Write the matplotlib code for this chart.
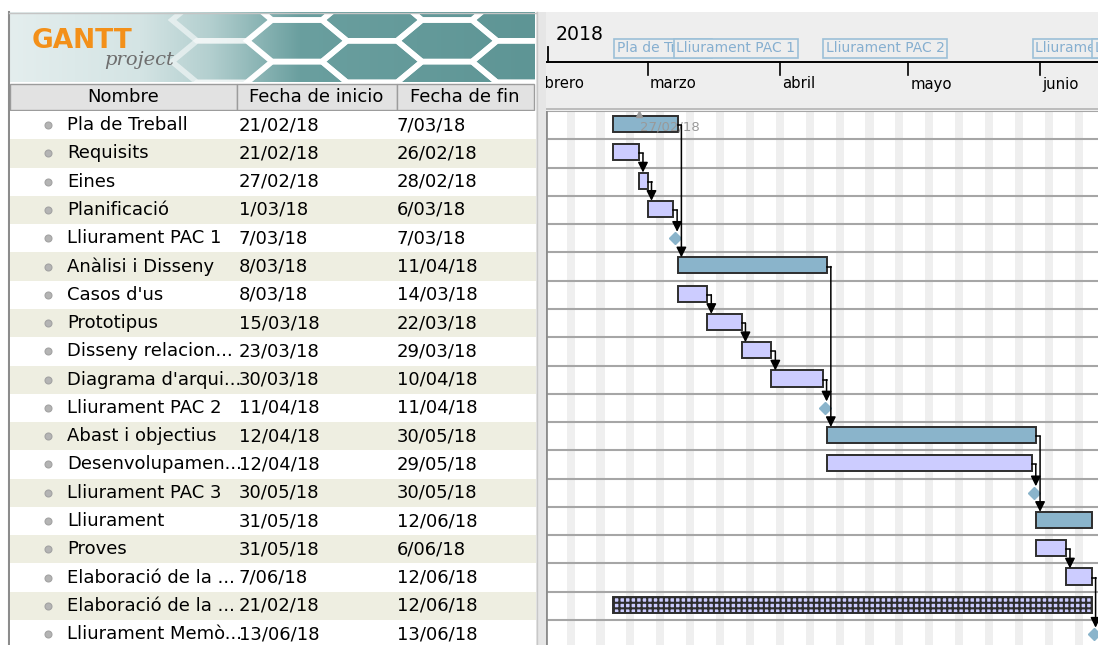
import datetime as dt
import numpy as np
import matplotlib
matplotlib.use("Agg")
import matplotlib.pyplot as plt
import matplotlib.dates as mdates
import matplotlib.colors as mcolors
import matplotlib.transforms as mtransforms
from matplotlib.patches import Rectangle, Polygon

plt.rcParams["font.family"] = ["DejaVu Sans"]
plt.rcParams["hatch.linewidth"] = 1.5

# ---- dades de les tasques ----
names = ["Pla de Treball", "Requisits", "Eines", "Planificació", "Lliurament PAC 1",
         "Anàlisi i Disseny", "Casos d'us", "Prototipus", "Disseny relacion...",
         "Diagrama d'arqui...", "Lliurament PAC 2", "Abast i objectius",
         "Desenvolupamen...", "Lliurament PAC 3", "Lliurament", "Proves",
         "Elaboració de la ...", "Elaboració de la ...", "Lliurament Memò..."]
start_dates = ["21/02/18", "21/02/18", "27/02/18", "1/03/18", "7/03/18", "8/03/18",
               "8/03/18", "15/03/18", "23/03/18", "30/03/18", "11/04/18", "12/04/18",
               "12/04/18", "30/05/18", "31/05/18", "31/05/18", "7/06/18", "21/02/18",
               "13/06/18"]
end_dates = ["7/03/18", "26/02/18", "28/02/18", "6/03/18", "7/03/18", "11/04/18",
             "14/03/18", "22/03/18", "29/03/18", "10/04/18", "11/04/18", "30/05/18",
             "29/05/18", "30/05/18", "12/06/18", "6/06/18", "12/06/18", "12/06/18",
             "13/06/18"]
kinds = ["summary", "task", "task", "task", "milestone", "summary", "task", "task",
         "task", "task", "milestone", "summary", "task", "milestone", "summary",
         "task", "task", "hatched", "milestone"]
# (predecessora, successora)
deps = [(0, 5), (1, 2), (2, 3), (3, 4), (6, 7), (7, 8), (8, 9), (9, 10), (5, 11),
        (12, 13), (11, 14), (15, 16), (16, 18)]
timeline_tasks = [0, 4, 10, 13, 18]
timeline_labels = ["Pla de Treball", "Lliurament PAC 1", "Lliurament PAC 2",
                   "Lliurament PAC 3", "Lliurament Memòria"]
month_names = ["febrero", "marzo", "abril", "mayo", "junio"]
month_nums = [2, 3, 4, 5, 6]
year_label = "2018"
today_label = "27/02/18"
columns = ["Nombre", "Fecha de inicio", "Fecha de fin"]


def parse(s):
    d, m, y = s.split("/")
    return dt.date(2000 + int(y), int(m), int(d))


start = mdates.date2num([parse(s) for s in start_dates])
end = mdates.date2num([parse(s) for s in end_dates]) + 1   # fi del dia
today = mdates.date2num(parse(today_label))

# ---- geometria de la captura (pixels) ----
W, H = 1098, 645
ROW_TOP, ROW_H = 111.0, 28.28
DAY_PX = 4.27
GX0 = 546

fig = plt.figure(figsize=(W / 100, H / 100), dpi=100)


def px_axes(x0, y0, x1, y1):
    return fig.add_axes([x0 / W, 1 - y1 / H, (x1 - x0) / W, (y1 - y0) / H])


def clean(a):
    a.set_xticks([])
    a.set_yticks([])
    for s in a.spines.values():
        s.set_visible(False)


ref = mdates.date2num(dt.date(2018, 2, 21))
xlim = (ref - (613.5 - GX0) / DAY_PX, ref + (W - 613.5) / DAY_PX)
ylim = ((H - ROW_TOP) / ROW_H - 0.5, (110.5 - ROW_TOP) / ROW_H - 0.5)

# ---- fons i panell esquerre ----
bg = px_axes(0, 0, W, H)
stops = [9, 140, 210, 300, 535]
cols = [mcolors.to_rgb(c) for c in ["#E4EEEE", "#D4E4E4", "#B3CFCF", "#6A9F9F", "#5E9595"]]
xs = np.arange(9, 536)
grad = np.stack([np.interp(xs, stops, [c[k] for c in cols]) for k in range(3)], axis=-1)[None, :, :]
bg.imshow(grad, extent=(9, 535, 82.5, 13), aspect="auto", interpolation="bilinear", zorder=1)

# panal de l'escut
clip_rect = Rectangle((9, 13), 526, 69.5, transform=bg.transData)
rx, ry = 50, 24
ang = np.deg2rad(np.arange(0, 360, 60))
for col in range(0, 7):
    cx = 222 + col * 75
    for row in range(-1, 3):
        cy = 20 + row * 41.6 + (20.8 if col % 2 else 0)
        hexa = Polygon(np.column_stack([cx + rx * np.cos(ang), cy + ry * np.sin(ang)]),
                       closed=True, fc="none", ec="white", lw=4,
                       alpha=min(1.0, 0.55 + (cx - 222) / 150), zorder=2)
        bg.add_patch(hexa)
        hexa.set_clip_path(clip_rect)

bg.text(32, 41, "GANTT", color="#F39019", fontsize=19, fontweight="bold", va="center", zorder=3)
bg.text(104, 60, "project", color="#6E6E6E", fontsize=14, family="DejaVu Serif",
        style="italic", va="center", zorder=3)

col_edges = [10, 236.5, 396.5, 534]
for k, lab in enumerate(columns):
    bg.add_patch(Rectangle((col_edges[k], 83.5), col_edges[k + 1] - col_edges[k], 26.5,
                           fc="#E2E2E2", ec="#9C9C9C", lw=1, zorder=2))
    bg.text((col_edges[k] + col_edges[k + 1]) / 2, 97, lab, fontsize=13,
            ha="center", va="center", zorder=3)

bg.add_patch(Rectangle((536, 12), 10, H - 12, fc="#E6E6E6", ec="none", zorder=1))
bg.plot([9, 9], [12, H], color="#8C8C8C", lw=1.5, zorder=3)
bg.plot([9, 536], [12.5, 12.5], color="#C4C4C4", lw=1, zorder=3)
bg.plot([537, 537], [12, H], color="#C8C8C8", lw=1, zorder=3)
bg.set_xlim(0, W)
bg.set_ylim(H, 0)
bg.axis("off")

tx = px_axes(10, 110.5, 536, H)
tx.set_xlim(10, 536)
tx.set_ylim(*ylim)
clean(tx)
for i, nm in enumerate(names):
    tx.add_patch(Rectangle((10, i - 0.5), 526, 1, fc="white" if i % 2 == 0 else "#EEEEE1",
                           ec="none", zorder=0))
    tx.plot(48, i, "o", ms=5, mfc="#B4B4B4", mec="#A2A2A2", mew=0.8)
    tx.text(67, i, nm, fontsize=13, va="center")
    tx.text(239, i, start_dates[i], fontsize=13, va="center")
    tx.text(397, i, end_dates[i], fontsize=13, va="center")

# ---- capçalera de la línia de temps ----
hx = px_axes(GX0, 12, W, 110.5)
hx.set_facecolor("#EEEEEE")
hx.set_xlim(*xlim)
hx.set_ylim(110.5, 12)
clean(hx)
trans = mtransforms.blended_transform_factory(hx.transAxes, hx.transData)
hx.plot([0.004, 0.004], [47, 62], color="black", lw=1.3, transform=trans)
hx.text(0.017, 35, year_label, fontsize=13.6, va="center", transform=trans)
hx.axhline(62, color="black", lw=1.4)
hx.axhline(109.5, color="#B4B4B4", lw=1.2)
for m, mn in zip(month_nums, month_names):
    xm = mdates.date2num(dt.date(2018, m, 1))
    hx.plot([xm, xm], [62, 75], color="black", lw=1.2)
    hx.annotate(mn, (xm, 84), xytext=(1.5, 0), textcoords="offset points",
                fontsize=10.7, va="center", clip_on=True, annotation_clip=False)
for z, (t, lab) in enumerate(zip(timeline_tasks, timeline_labels)):
    hx.annotate(lab, (start[t], 48), xytext=(2.2, 0), textcoords="offset points",
                fontsize=10, color="#86AFD0", va="center", clip_on=True,
                annotation_clip=False, zorder=5 + z,
                bbox=dict(boxstyle="square,pad=0.18", fc="#EEEEEE", ec="#9CC0D8", lw=1.2))

# ---- diagrama de Gantt ----
ax = px_axes(GX0, 110.5, W, H)
ax.set_xlim(*xlim)
ax.set_ylim(*ylim)
clean(ax)
ax.axvline(xlim[0], color="#8C8C8C", lw=2)

sat = mdates.date2num(dt.date(2018, 2, 3))
while sat < xlim[1]:
    ax.axvspan(sat, sat + 1.9, color="#EFEFEF", lw=0, zorder=0)
    sat += 7
for b in np.arange(-0.5, len(names), 1.0):
    ax.axhline(b, color="#A6A6A6", lw=1.5, zorder=1)

BAR_H = 0.57
OFF = -0.04
DIA = 0.23   # meitat de l'alçada del rombe
fills = {"summary": "#8AB4CB", "task": "#CCCCFF", "hatched": "#CCCCFF"}
for i, k in enumerate(kinds):
    if k == "milestone":
        ax.plot(start[i] + 0.5, i, "D", ms=6.6, color="#8AB4CB", mec="#8AB4CB", zorder=4)
    else:
        ax.barh(i + OFF, end[i] - start[i], left=start[i], height=BAR_H, color=fills[k],
                edgecolor="#2E2E2E", lw=1.4, zorder=3,
                hatch="+++" if k == "hatched" else None)

ax.plot(today, -0.38, "^", ms=4, color="#9A9A9A", zorder=5)
ax.text(today + 0.3, 0.06, today_label, fontsize=9.5, color="#999999", va="center", zorder=5)

for p, s in deps:
    x_line = end[p] + 0.9
    top = s - DIA if kinds[s] == "milestone" else s + OFF - BAR_H / 2
    ax.plot([end[p], x_line], [p, p], color="black", lw=1.1, zorder=6)
    ax.annotate("", xy=(x_line, top), xytext=(x_line, p),
                arrowprops=dict(arrowstyle="-|>", color="black", lw=1.1,
                                mutation_scale=15, shrinkA=0, shrinkB=0), zorder=6)

fig.savefig("out.png", dpi=100)
